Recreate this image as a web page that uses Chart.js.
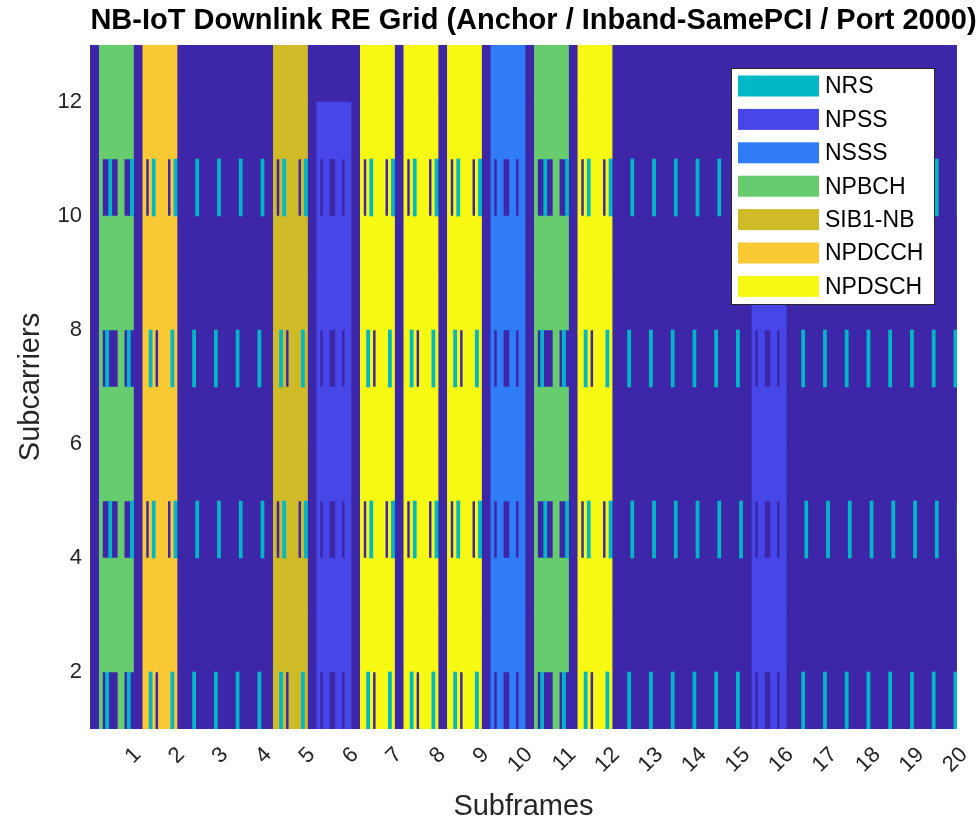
<!DOCTYPE html>
<html lang="en">
<head>
    <meta charset="UTF-8">
    <title>NB-IoT Downlink RE Grid</title>
    <style>
        html, body { margin: 0; padding: 0; background: #fff; }
        #wrap { width: 977px; height: 821px; }
    </style>
</head>
<body>
    <div id="wrap"><canvas id="reGrid" width="977" height="821"></canvas></div>
    <script src="https://cdn.jsdelivr.net/npm/chart.js"></script>
    <script>
        // what each subframe carries (2 radio frames on the anchor carrier)
        const subframeAlloc = ['NPBCH', 'NPDCCH', '', '', 'SIB1-NB', 'NPSS', 'NPDSCH', 'NPDSCH', 'NPDSCH', 'NSSS',
                               'NPBCH', 'NPDSCH', '', '', '', 'NPSS', '', '', '', ''];
        const channelNames = ['NRS', 'NPSS', 'NSSS', 'NPBCH', 'SIB1-NB', 'NPDCCH', 'NPDSCH'];
        const channelColors = ['#03b8c6', '#4646e9', '#2f7cf6', '#66cc6e', '#cfba27', '#fbc933', '#f7f912'];
        const emptyColor = '#3d26a8';

        const xTickLabels = ['1', '2', '3', '4', '5', '6', '7', '8', '9', '10',
                             '11', '12', '13', '14', '15', '16', '17', '18', '19', '20'];
        const yTickValues = [2, 4, 6, 8, 10, 12];

        // resource element pattern inside one subframe: subcarrier -> OFDM symbols
        const nrsPort2000 = { 0: [5, 12], 3: [6, 13], 6: [5, 12], 9: [6, 13] };
        const nrsPort2001 = { 0: [6, 13], 3: [5, 12], 6: [6, 13], 9: [5, 12] };
        const crsPort0 = { 0: [0, 7], 3: [4, 11], 6: [0, 7], 9: [4, 11] };
        const crsFourPorts = [0, 1, 4, 7, 8, 11];
        const firstSymbol = 3;       // LTE control region before this
        const npssSubcarriers = 11;

        const NSC = 12, NSYM = 14;
        const totalSym = subframeAlloc.length * NSYM;

        // build the RE grid (0 = empty, 1..7 = channel index + 1)
        const grid = [];
        for (let sc = 0; sc < NSC; sc++) grid.push(new Array(totalSym).fill(0));

        subframeAlloc.forEach((ch, sf) => {
            const code = channelNames.indexOf(ch) + 1;
            const fourPortCrs = ch === 'NPSS' || ch === 'NSSS' || ch === 'NPBCH';
            for (let sc = 0; sc < NSC; sc++) {
                const refRow = sc in crsPort0;
                for (let s = 0; s < NSYM; s++) {
                    let v = 0;
                    if (ch && s >= firstSymbol && !(ch === 'NPSS' && sc >= npssSubcarriers)) v = code;
                    if (refRow) {
                        if (fourPortCrs && crsFourPorts.includes(s)) v = 0;
                        if (crsPort0[sc].includes(s)) v = 0;
                        if (ch === 'NPBCH' && nrsPort2001[sc].includes(s)) v = 0;
                        if (ch !== 'NPSS' && ch !== 'NSSS' && nrsPort2000[sc].includes(s)) v = 1;
                    }
                    grid[sc][sf * NSYM + s] = v;
                }
            }
        });

        // turn each row of the grid into runs -> floating horizontal bars
        function runsFor(code) {
            const out = [];
            for (let sc = 0; sc < NSC; sc++) {
                let start = -1;
                for (let i = 0; i <= totalSym; i++) {
                    const hit = i < totalSym && grid[sc][i] === code;
                    if (hit && start < 0) start = i;
                    if (!hit && start >= 0) {
                        out.push({ y: sc + 1.5, x: [start, i] });
                        start = -1;
                    }
                }
            }
            return out;
        }

        const datasets = channelNames.map((name, k) => ({
            label: name,
            data: runsFor(k + 1),
            backgroundColor: channelColors[k],
            order: 0
        }));
        datasets.push({
            label: 'empty',
            data: Array.from({ length: NSC }, (_, sc) => ({ y: sc + 1.5, x: [0, totalSym] })),
            backgroundColor: emptyColor,
            order: 1
        });

        const fontFamily = "'Liberation Sans', Arial, Helvetica, sans-serif";
        const textColor = '#262626';

        // title over the axes, like the original
        const titlePlugin = {
            id: 'axesTitle',
            afterDraw(chart) {
                const { ctx, chartArea } = chart;
                ctx.save();
                ctx.font = 'bold 29px ' + fontFamily;
                ctx.fillStyle = '#000';
                ctx.textAlign = 'center';
                ctx.textBaseline = 'alphabetic';
                ctx.fillText('NB-IoT Downlink RE Grid (Anchor / Inband-SamePCI / Port 2000)',
                    (chartArea.left + chartArea.right) / 2 + 10, chartArea.top - 16);
                ctx.restore();
            }
        };

        // boxed legend in the upper right corner of the axes
        const legendPlugin = {
            id: 'boxLegend',
            afterDatasetsDraw(chart) {
                const { ctx, chartArea } = chart;
                const boxR = chartArea.right - 22, boxT = chartArea.top + 23;
                const boxW = 204, boxH = 237;
                const boxL = boxR - boxW;
                ctx.save();
                ctx.fillStyle = '#fff';
                ctx.fillRect(boxL, boxT, boxW, boxH);
                ctx.strokeStyle = '#262626';
                ctx.lineWidth = 1;
                ctx.strokeRect(boxL + 0.5, boxT + 0.5, boxW - 1, boxH - 1);
                ctx.font = '23px ' + fontFamily;
                ctx.textBaseline = 'middle';
                ctx.textAlign = 'left';
                chart.data.datasets.forEach((ds, i) => {
                    if (i >= channelNames.length) return;
                    const cy = boxT + 18 + i * 33.4;
                    ctx.fillStyle = ds.backgroundColor;
                    ctx.fillRect(boxL + 7, cy - 10.5, 81, 21);
                    ctx.fillStyle = '#000';
                    ctx.fillText(ds.label, boxL + 94, cy + 1);
                });
                ctx.restore();
            }
        };

        new Chart(document.getElementById('reGrid'), {
            type: 'bar',
            data: { datasets: datasets },
            plugins: [titlePlugin, legendPlugin],
            options: {
                indexAxis: 'y',
                responsive: false,
                animation: false,
                events: [],
                layout: { padding: { top: 45, right: 20, left: 0, bottom: 0 } },
                datasets: {
                    bar: {
                        grouped: false,
                        barPercentage: 1,
                        categoryPercentage: 1,
                        borderWidth: 0
                    }
                },
                plugins: {
                    legend: { display: false },
                    title: { display: false },
                    tooltip: { enabled: false }
                },
                scales: {
                    x: {
                        type: 'linear',
                        position: 'bottom',
                        min: 0,
                        max: totalSym - 1,
                        offset: false,
                        grid: { display: false, drawTicks: false, offset: false },
                        border: { display: false },
                        afterBuildTicks: (axis) => {
                            axis.ticks = xTickLabels.map((t, i) => ({ value: (i + 1) * NSYM }));
                        },
                        ticks: {
                            autoSkip: false,
                            minRotation: 45,
                            maxRotation: 45,
                            padding: 13,
                            labelOffset: 4,
                            color: textColor,
                            font: { family: fontFamily, size: 22 },
                            callback: (value, index) => xTickLabels[index]
                        },
                        title: {
                            display: true,
                            text: 'Subframes',
                            color: textColor,
                            font: { family: fontFamily, size: 29, lineHeight: 1 },
                            padding: { top: 0, bottom: 0 }
                        },
                        afterFit: (axis) => {
                            axis.height = 92;
                            axis.paddingLeft = 0;
                            axis.paddingRight = 0;
                        }
                    },
                    y: {
                        type: 'linear',
                        position: 'left',
                        min: 1,
                        max: NSC + 1,
                        offset: false,
                        grid: { display: false, drawTicks: false, offset: false },
                        border: { display: false },
                        afterBuildTicks: (axis) => {
                            axis.ticks = yTickValues.map(v => ({ value: v }));
                        },
                        ticks: {
                            padding: 8,
                            color: textColor,
                            font: { family: fontFamily, size: 22 }
                        },
                        title: {
                            display: true,
                            text: 'Subcarriers',
                            color: textColor,
                            font: { family: fontFamily, size: 29, lineHeight: 1 },
                            padding: { top: 16, bottom: 0 }
                        },
                        afterFit: (axis) => {
                            axis.width = 90;
                            axis.paddingTop = 0;
                            axis.paddingBottom = 0;
                        }
                    }
                }
            }
        });
    </script>
</body>
</html>
